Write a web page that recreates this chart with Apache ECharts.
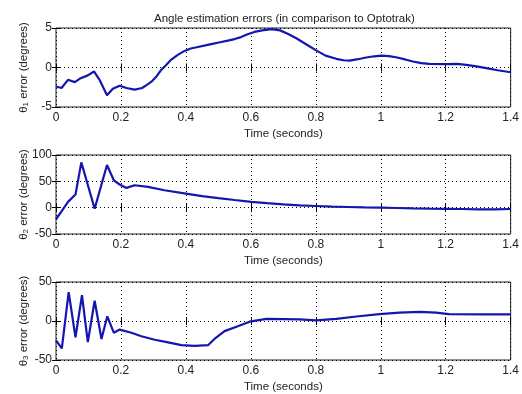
<!DOCTYPE html>
<html>
<head>
<meta charset="utf-8">
<script src="https://cdn.jsdelivr.net/npm/echarts@6/dist/echarts.min.js"></script>
<style>
  html, body { margin: 0; padding: 0; background: #fff; }
  #chart { width: 522px; height: 394px; }
</style>
</head>
<body>
<div id="chart"></div>
<script>
// theta 1 error
const t1 = [0, 0.017, 0.037, 0.058, 0.076, 0.098, 0.117, 0.134, 0.157, 0.175, 0.196, 0.217, 0.242, 0.265, 0.28, 0.294, 0.31, 0.324, 0.34, 0.355, 0.375, 0.396, 0.415, 0.437, 0.46, 0.478, 0.505, 0.529, 0.55, 0.57, 0.59, 0.611, 0.635, 0.663, 0.69, 0.715, 0.74, 0.77, 0.8, 0.83, 0.863, 0.885, 0.904, 0.93, 0.955, 0.98, 1.001, 1.025, 1.047, 1.075, 1.099, 1.125, 1.15, 1.202, 1.235, 1.263, 1.295, 1.325, 1.36, 1.4]
const e1 = [-2.4, -2.6, -1.56, -1.85, -1.35, -1.0, -0.5, -1.56, -3.5, -2.7, -2.3, -2.6, -2.8, -2.6, -2.2, -1.8, -1.1, -0.3, 0.35, 1.0, 1.6, 2.1, 2.4, 2.6, 2.8, 2.96, 3.2, 3.4, 3.6, 3.85, 4.2, 4.5, 4.7, 4.85, 4.7, 4.25, 3.7, 2.95, 2.2, 1.5, 1.1, 0.92, 0.88, 1.05, 1.27, 1.42, 1.5, 1.45, 1.3, 1.02, 0.76, 0.56, 0.45, 0.43, 0.45, 0.34, 0.15, -0.08, -0.35, -0.6]
// theta 2 error
const t2 = [0, 0.017, 0.037, 0.06, 0.078, 0.119, 0.157, 0.178, 0.196, 0.217, 0.242, 0.283, 0.334, 0.4, 0.45, 0.5, 0.55, 0.601, 0.65, 0.7, 0.75, 0.8, 0.85, 0.9, 0.95, 1.0, 1.05, 1.1, 1.15, 1.2, 1.25, 1.3, 1.35, 1.4]
const e2 = [-22, -7, 11, 25, 86, -2, 81, 52, 44, 37.5, 42.6, 39.4, 33, 26.8, 22, 18, 14.5, 11, 8.5, 6.3, 4.4, 3.2, 2, 1.3, 0.6, 0, -0.6, -1.3, -1.9, -2.2, -2.5, -3.2, -3.2, -2.5]
// theta 3 error
const t3 = [0, 0.018, 0.039, 0.06, 0.08, 0.098, 0.119, 0.14, 0.158, 0.178, 0.196, 0.232, 0.263, 0.304, 0.345, 0.386, 0.427, 0.468, 0.488, 0.519, 0.56, 0.596, 0.648, 0.75, 0.801, 0.863, 0.925, 0.996, 1.058, 1.12, 1.17, 1.21, 1.32, 1.4]
const e3 = [-25, -35, 37, -21, 33, -27, 26, -23, 6, -15, -11, -15, -19.5, -24, -27.5, -31, -32, -31, -23, -13, -6.7, -0.9, 2.7, 2.2, 0.9, 2.7, 5.8, 8.9, 10.7, 11.6, 10.7, 8.9, 8.4, 8.4]

const yRanges = [[-5, 5, 5], [-50, 100, 50], [-50, 50, 50]]
const yNames = ['1', '2', '3']
const tops = [28, 155, 282]

const font = 'Arial, "Liberation Sans", sans-serif'
const dotted = { color: '#000', width: 1, type: [1, 3] }
const txt = '#222'

const grids = tops.map(top => ({
  left: 56, top, width: 455, height: 79,
  show: true, borderColor: '#222', borderWidth: 1, backgroundColor: '#fff'
}))

const xAxes = []
const yAxes = []
tops.forEach((_, i) => {
  xAxes.push({
    type: 'value', gridIndex: i, min: 0, max: 1.4, interval: 0.2,
    name: 'Time (seconds)', nameLocation: 'middle', nameGap: 21,
    nameTextStyle: { color: txt, fontSize: 11.5, fontFamily: font },
    axisLine: { show: false },
    axisTick: { inside: true, length: 4, lineStyle: { color: '#000' } },
    axisLabel: { color: txt, fontSize: 12, fontFamily: font, margin: 5 },
    splitLine: { show: true, lineStyle: dotted }
  })
  xAxes.push({
    type: 'value', gridIndex: i, min: 0, max: 1.4, interval: 0.2, position: 'top',
    axisLine: { show: false },
    axisTick: { inside: true, length: 4, lineStyle: { color: '#000' } },
    axisLabel: { show: false }, splitLine: { show: false }
  })
  const [mn, mx, step] = yRanges[i]
  yAxes.push({
    type: 'value', gridIndex: i, min: mn, max: mx, interval: step,
    name: '{t|θ}{s|' + yNames[i] + '}{t| error (degrees)}',
    nameLocation: 'middle', nameGap: 26, nameMoveOverlap: false,
    nameTextStyle: {
      rich: {
        t: { fontSize: 11.5, fontFamily: font, color: txt, lineHeight: 13 },
        s: { fontSize: 8, fontFamily: font, color: txt, verticalAlign: 'bottom', lineHeight: 13, padding: [5, 0, 0, 0] }
      }
    },
    axisLine: { show: false },
    axisTick: { inside: true, length: 4, lineStyle: { color: '#000' } },
    axisLabel: { color: txt, fontSize: 12, fontFamily: font, margin: 4 },
    splitLine: { show: true, lineStyle: dotted }
  })
  yAxes.push({
    type: 'value', gridIndex: i, min: mn, max: mx, interval: step, position: 'right',
    axisLine: { show: false },
    axisTick: { inside: true, length: 4, lineStyle: { color: '#000' } },
    axisLabel: { show: false }, splitLine: { show: false }
  })
})

const pairs = (t, v) => t.map((x, k) => [x, v[k]])
const lineSeries = (data, i) => ({
  type: 'line', xAxisIndex: i * 2, yAxisIndex: i * 2, data,
  showSymbol: false, animation: false,
  lineStyle: { color: '#1515b0', width: 2.2 }
})

const chart = echarts.init(document.getElementById('chart'))
chart.setOption({
  backgroundColor: '#fff',
  animation: false,
  title: {
    text: 'Angle estimation errors (in comparison to Optotrak)',
    left: 149, top: 8,
    textStyle: { fontSize: 11.5, fontWeight: 'normal', color: txt, fontFamily: font }
  },
  grid: grids,
  xAxis: xAxes,
  yAxis: yAxes,
  series: [
    lineSeries(pairs(t1, e1), 0),
    lineSeries(pairs(t2, e2), 1),
    lineSeries(pairs(t3, e3), 2)
  ]
})
</script>
</body>
</html>
